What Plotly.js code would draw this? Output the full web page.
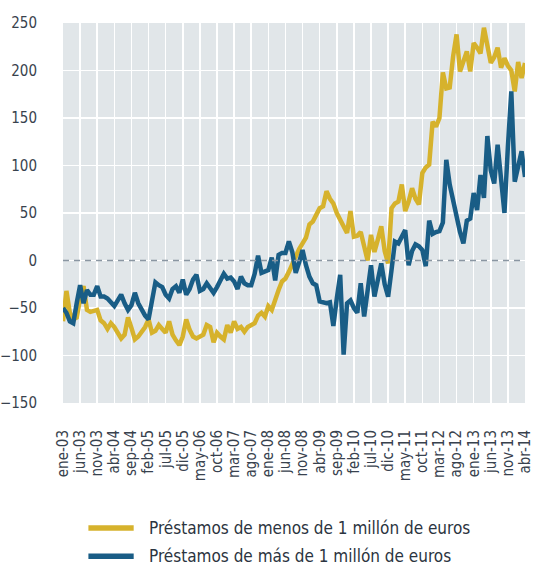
<!DOCTYPE html>
<html>
<head>
<meta charset="utf-8">
<script src="https://cdn.plot.ly/plotly-3.0.1.min.js"></script>
<style>
  html, body { margin: 0; padding: 0; background: #ffffff; }
  #chart { width: 533px; height: 567px; }
</style>
</head>
<body>
<div id="chart"></div>
<script>
// Monthly series, ene-03 .. abr-14
const monthNames = ['ene', 'feb', 'mar', 'abr', 'may', 'jun', 'jul', 'ago', 'sep', 'oct', 'nov', 'dic'];
const firstYear = 2003;
const nMonths = 136;

const seriesNames = [
  'Préstamos de menos de 1 millón de euros',
  'Préstamos de más de 1 millón de euros'
];

const menos = [
  -64, -32, -55, -62, -60, -40, -27, -52, -54, -53,
  -52, -63, -66, -72, -66, -70, -76, -82, -78, -60,
  -71, -83, -80, -75, -70, -62, -76, -74, -68, -72,
  -76, -64, -78, -84, -89, -80, -62, -73, -80, -82,
  -80, -78, -68, -70, -86, -76, -80, -83, -68, -76,
  -64, -72, -70, -75, -70, -68, -66, -58, -55, -59,
  -48, -52, -40, -31, -22, -19, -12, -3, 4, 12,
  18, 24, 38, 41, 48, 55, 57, 73, 65, 60,
  50, 43, 36, 29, 52, 25, 26, 30, 15, 0,
  27, 9, 22, 36, 10, -3, 55, 60, 62, 80,
  52, 62, 76, 65, 59, 92, 98, 101, 146, 141,
  150, 198, 181, 182, 215, 238, 199, 211, 220, 199,
  229, 224, 218, 245, 228, 208, 214, 224, 203, 213,
  205, 200, 178, 209, 192, 208
];

const mas = [
  -50, -55, -64, -66, -45, -26, -45, -31, -36, -36,
  -27, -38, -38, -40, -44, -48, -42, -36, -45, -52,
  -47, -34, -45, -52, -58, -62, -40, -23, -26, -28,
  -36, -40, -30, -27, -34, -20, -36, -30, -20, -15,
  -32, -30, -24, -30, -34, -28, -22, -14, -19, -18,
  -22, -30, -17, -24, -26, -26, -14, 5, -13, -12,
  -10, 3, -21, 6, 8, 8, 20, 9, -13, -2,
  11, -5, -17, -24, -26, -43, -44, -45, -44, -69,
  -40, -15, -99, -45, -42, -50, -55, -24, -59, -30,
  -5, -38, -20, -3, -25, -38, -10, 20, 18, 25,
  32, -5, 10, 17, 15, 11, -6, 42, 28, 30,
  31, 40, 106, 80, 62, 45, 30, 18, 42, 44,
  71, 53, 90, 66, 131, 95, 81, 122, 85, 50,
  120, 178, 83, 98, 115, 88
];

const yTicks = [-150, -100, -50, 0, 50, 100, 150, 200, 250];

// Category labels like "ene-03"
const categories = [];
for (let i = 0; i < nMonths; i++) {
  const yy = String((firstYear + Math.floor(i / 12)) % 100).padStart(2, '0');
  categories.push(monthNames[i % 12] + '-' + yy);
}
// Every fifth month is labelled
const tickLabels = categories.filter((_, i) => i % 5 === 0);

const colors = ['#d6b22c', '#195d86'];
const font = '"Liberation Sans Narrow", "DejaVu Sans Condensed", "Liberation Sans", sans-serif';

const traces = [menos, mas].map((vals, k) => ({
  type: 'scatter',
  mode: 'lines',
  x: categories,
  y: vals,
  name: seriesNames[k],
  line: { color: colors[k], width: 4.5, shape: 'linear' },
  showlegend: false,
  hoverinfo: 'x+y'
}));

// Legend drawn beneath the plot: sample line + label per series
const legY = [-0.329, -0.403];
const shapes = [
  {
    type: 'line', xref: 'paper', yref: 'y',
    x0: 0, x1: 1, y0: 0, y1: 0,
    line: { color: '#8a96a2', width: 1.5, dash: '6px,5px' },
    layer: 'above'
  }
];
const annotations = [];
seriesNames.forEach((name, k) => {
  shapes.push({
    type: 'line', xref: 'paper', yref: 'paper',
    x0: 0.055, x1: 0.153, y0: legY[k], y1: legY[k],
    line: { color: colors[k], width: 5.5 }
  });
  annotations.push({
    xref: 'paper', yref: 'paper',
    x: 0.182, y: legY[k],
    xanchor: 'left', yanchor: 'middle',
    text: name, showarrow: false,
    font: { family: font, size: 17, color: '#2b3440' }
  });
});

const layout = {
  width: 533,
  height: 567,
  margin: { l: 63, r: 8, t: 23, b: 164 },
  paper_bgcolor: '#ffffff',
  plot_bgcolor: '#e1e6e9',
  showlegend: false,
  font: { family: font, size: 14, color: '#38424e' },
  xaxis: {
    type: 'category',
    range: [0, nMonths - 1],
    tickmode: 'array',
    tickvals: tickLabels,
    ticktext: tickLabels,
    tickangle: -90,
    ticks: 'outside',
    ticklen: 20,
    tickcolor: 'rgba(0,0,0,0)',
    showgrid: true,
    gridcolor: '#ffffff',
    gridwidth: 1.5,
    zeroline: false,
    showline: false,
    tickfont: { family: font, size: 15, color: '#38424e' }
  },
  yaxis: {
    range: [-150, 250],
    tickmode: 'array',
    tickvals: yTicks,
    ticks: 'outside',
    ticklen: 22,
    tickcolor: 'rgba(0,0,0,0)',
    showgrid: true,
    gridcolor: '#ffffff',
    gridwidth: 1.5,
    zeroline: false,
    showline: false,
    tickfont: { family: font, size: 15, color: '#38424e' }
  },
  shapes: shapes,
  annotations: annotations
};

Plotly.newPlot('chart', traces, layout, { displayModeBar: false, staticPlot: true });
</script>
</body>
</html>
